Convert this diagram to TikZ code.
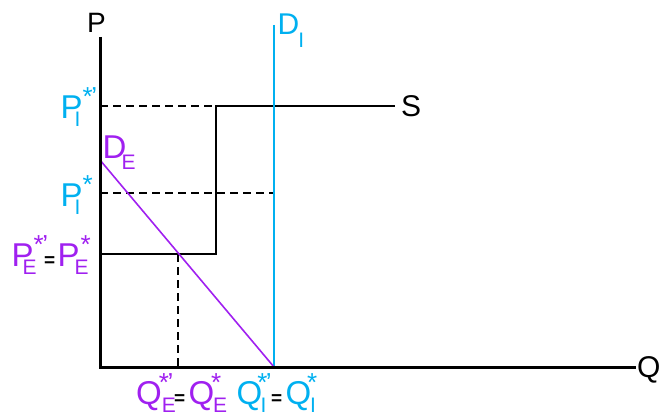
\documentclass[tikz,border=0pt]{standalone}
\usepackage{fontspec}
\setmainfont{Liberation Sans}
\definecolor{cy}{HTML}{00B0F0}
\definecolor{pu}{HTML}{A020F0}
\newcommand{\sbs}{\fontsize{21}{21}\selectfont}
\newcommand{\sps}{\fontsize{26}{26}\selectfont}
\newcommand{\st}{*}
\newcommand{\stp}{*\kern-1.5pt’}
% \lbl{sub kern}{sup kern}{main}{sup}{sub}
\newcommand{\lbl}[5]{#3\rlap{\kern#1\raisebox{-8pt}{\sbs #5}}\kern#2\raisebox{13pt}{\sps #4}}
\newcommand{\eqs}{{\fontsize{19}{19}\selectfont\bfseries\color{black}=}}
\begin{document}
\begin{tikzpicture}[x=1pt,y=-1pt,
  txt/.style={inner sep=0pt, anchor=base west, font=\fontsize{33}{33}\selectfont},
  ax/.style={inner sep=0pt, anchor=base west, font=\fontsize{30}{30}\selectfont},
  axisline/.style={line width=3pt, black},
  supply/.style={line width=2.2pt, black},
  dline/.style={line width=1.7pt, black, dash pattern=on 8pt off 5pt},
  demI/.style={line width=2.2pt, cy},
  demE/.style={line width=1.6pt, pu}]
\useasboundingbox (0,0) rectangle (660,417);
% coordinates
\coordinate (O) at (100,367);
\coordinate (Ptop) at (100,37);
\coordinate (Qend) at (636,367);
\coordinate (S0) at (100,254);
\coordinate (S1) at (216,254);
\coordinate (S2) at (216,106);
\coordinate (S3) at (395,106);
\coordinate (DIt) at (274,25);
\coordinate (DIb) at (274,367);
\coordinate (DIm) at (274,106);
\coordinate (DEt) at (100,160);
\coordinate (PIp) at (100,106);
\coordinate (PI) at (100,193);
\coordinate (PIr) at (274,193);
\coordinate (EQ) at (178,254);
\coordinate (EQb) at (178,367);
% lines
\draw[dline] (PIp) -- (DIm);
\draw[dline] (PI) -- (PIr);
\draw[dline] (EQ) -- (EQb);
\draw[supply] (S0) -- (S1) -- (S2) -- (S3);
\draw[demI] (DIt) -- (DIb);
\draw[demE] (DEt) -- (DIb);
\draw[axisline] (Ptop) -- (O) -- (Qend);
% labels
\node[ax, font=\fontsize{28}{28}\selectfont] (lP) at (86.8,33) {P};
\node[ax] (lQ) at (637,377) {Q};
\node[ax] (lS) at (401,117) {S};
\node[ax, text=cy] (lDI) at (277.5,35) {D\kern-1pt\raisebox{-13pt}{\sbs I}};
\node[txt, text=pu] (lDE) at (102.5,158) {D\kern-4.8pt\raisebox{-11pt}{\sbs E}};
\node[txt, text=cy] (lPIp) at (60.5,118) {\lbl{-8.2pt}{0pt}{P}{\stp}{I}};
\node[txt, text=cy] (lPI) at (60.5,206) {\lbl{-8.2pt}{0pt}{P}{\st}{I}};
\node[txt, text=pu] (lPE) at (11.5,266) {\lbl{-11pt}{0pt}{P}{\stp}{E}\kern-4pt\eqs\kern2.4pt\lbl{-5pt}{1pt}{P}{\st}{E}};
\node[txt, text=pu] (lQE) at (136,404) {\lbl{0pt}{-3pt}{Q}{\stp}{E}\kern0.9pt\eqs\kern3.3pt\lbl{-1pt}{-3pt}{Q}{\st}{E}};
\node[txt, text=cy] (lQI) at (236.4,404) {\lbl{-1.7pt}{-5pt}{Q}{\stp}{I}\kern-0.5pt\eqs\kern3.3pt\lbl{-1pt}{-4pt}{Q}{\st}{I}};
\end{tikzpicture}
\end{document}
